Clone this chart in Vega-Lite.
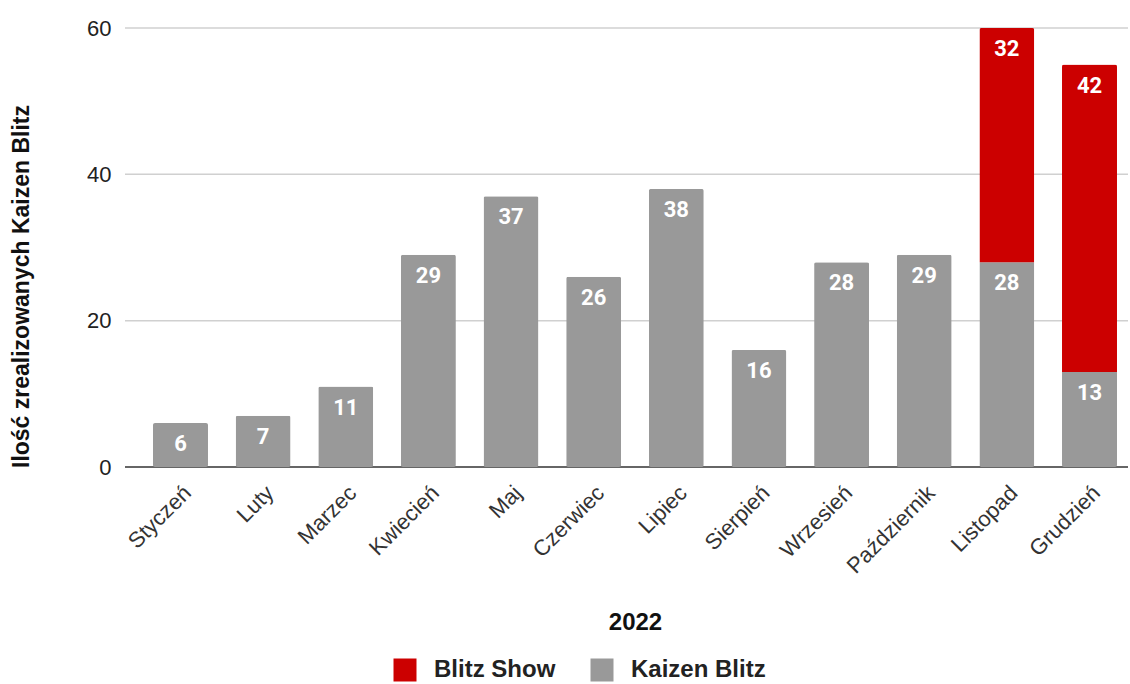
{
  "$schema": "https://vega.github.io/schema/vega-lite/v6.json",
  "width": 1003,
  "height": 439,
  "autosize": "none",
  "padding": {"left": 125, "top": 28, "right": 2, "bottom": 217},
  "background": "white",
  "config": {
    "view": {"stroke": null},
    "font": "Liberation Sans"
  },
  "data": {
    "values": [
      {"miesiac": "Styczeń", "seria": "Kaizen Blitz", "wartosc": 6, "kolejnosc": 1},
      {"miesiac": "Luty", "seria": "Kaizen Blitz", "wartosc": 7, "kolejnosc": 1},
      {"miesiac": "Marzec", "seria": "Kaizen Blitz", "wartosc": 11, "kolejnosc": 1},
      {"miesiac": "Kwiecień", "seria": "Kaizen Blitz", "wartosc": 29, "kolejnosc": 1},
      {"miesiac": "Maj", "seria": "Kaizen Blitz", "wartosc": 37, "kolejnosc": 1},
      {"miesiac": "Czerwiec", "seria": "Kaizen Blitz", "wartosc": 26, "kolejnosc": 1},
      {"miesiac": "Lipiec", "seria": "Kaizen Blitz", "wartosc": 38, "kolejnosc": 1},
      {"miesiac": "Sierpień", "seria": "Kaizen Blitz", "wartosc": 16, "kolejnosc": 1},
      {"miesiac": "Wrzesień", "seria": "Kaizen Blitz", "wartosc": 28, "kolejnosc": 1},
      {"miesiac": "Październik", "seria": "Kaizen Blitz", "wartosc": 29, "kolejnosc": 1},
      {"miesiac": "Listopad", "seria": "Kaizen Blitz", "wartosc": 28, "kolejnosc": 1},
      {"miesiac": "Grudzień", "seria": "Kaizen Blitz", "wartosc": 13, "kolejnosc": 1},
      {"miesiac": "Listopad", "seria": "Blitz Show", "wartosc": 32, "kolejnosc": 2},
      {"miesiac": "Grudzień", "seria": "Blitz Show", "wartosc": 42, "kolejnosc": 2}
    ]
  },
  "resolve": {"scale": {"y": "shared"}},
  "layer": [
    {
      "data": {"values": [{"linia": 20}, {"linia": 40}, {"linia": 60}]},
      "mark": {"type": "rule", "color": "#d0d0d0", "strokeWidth": 1.5},
      "encoding": {
        "y": {"field": "linia", "type": "quantitative"}
      }
    },
    {
      "data": {"values": [{"linia": 0}]},
      "mark": {"type": "rule", "color": "#333333", "strokeWidth": 1.5},
      "encoding": {
        "y": {"field": "linia", "type": "quantitative"}
      }
    },
    {
      "mark": {"type": "bar", "cornerRadius": 2},
      "encoding": {
        "x": {
          "field": "miesiac",
          "type": "nominal",
          "sort": ["Styczeń", "Luty", "Marzec", "Kwiecień", "Maj", "Czerwiec", "Lipiec", "Sierpień", "Wrzesień", "Październik", "Listopad", "Grudzień"],
          "scale": {"range": [28, 992], "paddingInner": 0.3345, "paddingOuter": 0},
          "axis": {
            "title": "2022",
            "titleFontSize": 24,
            "titleFontWeight": "bold",
            "titleColor": "#111111",
            "titleY": 143,
            "titleBaseline": "top",
            "labelAngle": -45,
            "labelAlign": "right",
            "labelBaseline": "middle",
            "labelFontSize": 22,
            "labelColor": "#333333",
            "labelPadding": 22,
            "labelOffset": 7,
            "ticks": false,
            "domain": false,
            "grid": false
          }
        },
        "y": {
          "field": "wartosc",
          "type": "quantitative",
          "stack": "zero",
          "scale": {"domain": [0, 60], "nice": false},
          "axis": {
            "title": "Ilość zrealizowanych Kaizen Blitz",
            "titleFontSize": 23,
            "titleFontWeight": "bold",
            "titleColor": "#111111",
            "titleAngle": 270,
            "titleAlign": "center",
            "titleBaseline": "middle",
            "titleX": -104,
            "titleY": 258,
            "values": [0, 20, 40, 60],
            "labelFontSize": 22,
            "labelColor": "#222222",
            "labelPadding": 14,
            "ticks": false,
            "domain": false,
            "grid": false
          }
        },
        "order": {"field": "kolejnosc", "type": "quantitative"},
        "color": {
          "field": "seria",
          "type": "nominal",
          "scale": {"domain": ["Blitz Show", "Kaizen Blitz"], "range": ["#cc0000", "#999999"]},
          "legend": {
            "title": null,
            "orient": "none",
            "direction": "horizontal",
            "legendX": 268,
            "legendY": 630,
            "symbolType": "square",
            "symbolSize": 529,
            "symbolStrokeWidth": 0,
            "labelFontSize": 24,
            "labelFontWeight": "bold",
            "labelColor": "#222222",
            "labelOffset": 17,
            "columnPadding": 34
          }
        }
      }
    },
    {
      "mark": {"type": "text", "color": "white", "font": "Roboto", "fontWeight": "bold", "fontSize": 22, "baseline": "middle", "dy": 21},
      "encoding": {
        "x": {
          "field": "miesiac",
          "type": "nominal",
          "sort": ["Styczeń", "Luty", "Marzec", "Kwiecień", "Maj", "Czerwiec", "Lipiec", "Sierpień", "Wrzesień", "Październik", "Listopad", "Grudzień"]
        },
        "y": {"field": "wartosc", "type": "quantitative", "stack": "zero"},
        "order": {"field": "kolejnosc", "type": "quantitative"},
        "text": {"field": "wartosc", "type": "quantitative"}
      }
    }
  ]
}
